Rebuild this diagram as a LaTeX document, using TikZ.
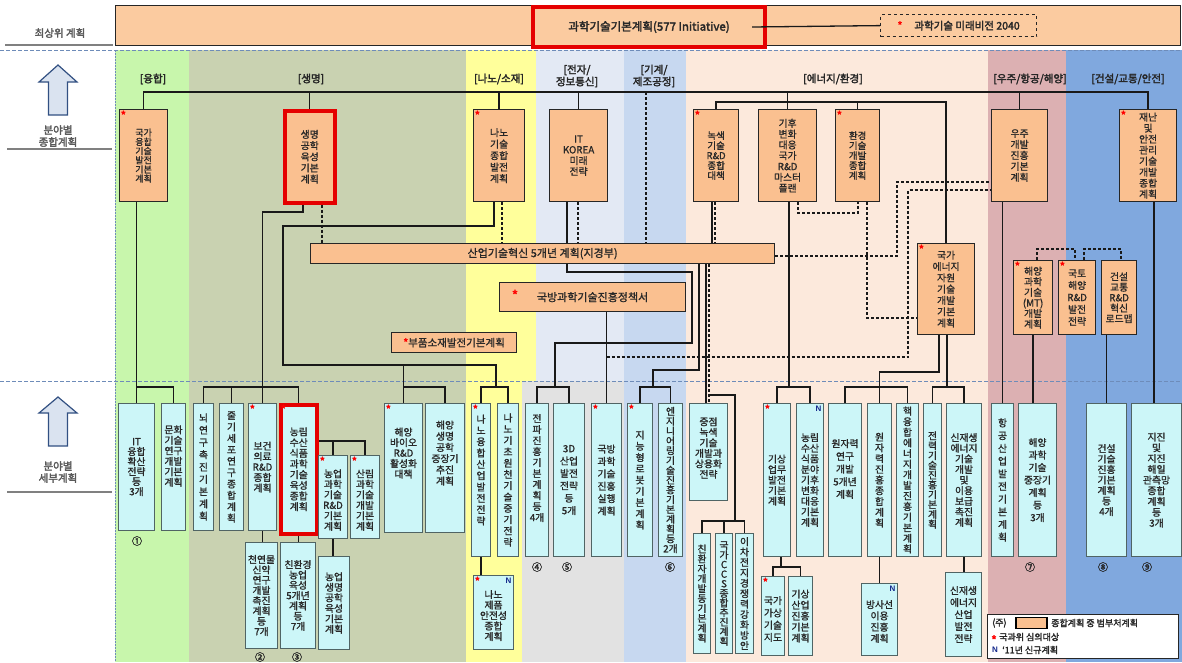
\documentclass[tikz,border=0pt]{standalone}
\usepackage{fontspec}
\setmainfont{Noto Sans CJK KR}[FakeBold=1.2]
\newfontfamily\krb{Noto Sans CJK KR}[FakeBold=2.5]
\newfontfamily\lat{Liberation Sans}
\usetikzlibrary{calc}
\pgfdeclarelayer{back}
\pgfdeclarelayer{mid}
\pgfsetlayers{back,mid,main}

\definecolor{orfill}{RGB}{250,192,144}
\definecolor{topfill}{RGB}{251,203,160}
\definecolor{cyfill}{RGB}{204,246,248}
\definecolor{cyline}{RGB}{80,100,100}
\definecolor{bandA}{RGB}{200,246,172}
\definecolor{bandB}{RGB}{201,210,177}
\definecolor{bandC}{RGB}{255,255,155}
\definecolor{bandD}{RGB}{227,233,244}
\definecolor{bandDg}{RGB}{226,226,226}
\definecolor{bandE}{RGB}{199,216,240}
\definecolor{bandF}{RGB}{252,233,220}
\definecolor{bandG}{RGB}{220,176,178}
\definecolor{bandH}{RGB}{128,168,222}
\definecolor{sepblue}{RGB}{110,140,185}
\definecolor{navyN}{RGB}{20,40,140}
\definecolor{arrowfill}{RGB}{218,227,240}
\definecolor{arrowline}{RGB}{50,80,130}
\definecolor{txt}{RGB}{40,40,40}

\newcommand\fs{\fontsize{9.8}{10.5}\selectfont}
\newcommand\vtu[3][10.5]{\vbox{\baselineskip=#1pt\lineskiplimit=-30pt\lineskip=0pt\vtA#2\relax\vskip#3}}
\newcommand\vt[2][10.5]{\vtu[#1]{#2}{0pt}}
\def\vtA#1{\ifx\relax#1\else\hbox to 8pt{\hss#1\hss}\expandafter\vtA\fi}
\newcommand\bx[7][]{\node[#1, anchor=north west, minimum width={#5-#3}, minimum height={#6-#4}] (#2) at (#3,#4) {#7};}

\tikzset{
 ob/.style={draw=black!85, fill=orfill, line width=1.2pt, inner sep=0pt, font=\fs, text=txt},
 cb/.style={draw=cyline, fill=cyfill, line width=1pt, inner sep=0pt, font=\fs, text=txt},
 rb/.style={draw=red!90!black, line width=3.5pt},
 st/.style={label={[text=red, anchor=north west, inner sep=1.5pt, font=\krb\fontsize{11.5}{11.5}\selectfont]north west:*}},
 nn/.style={label={[text=navyN, anchor=north east, inner sep=2.5pt, font=\lat\bfseries\fontsize{8}{8}\selectfont]north east:N}},
 ln/.style={line width=1.3pt, draw=black!90},
 dl/.style={line width=1.3pt, draw=black!90, dash pattern=on 3pt off 2pt},
 cat/.style={font=\krb\fontsize{10.5}{12}\selectfont, text=black!85, align=center},
 num/.style={font=\krb\fontsize{10}{10}\selectfont, text=black!85},
 side/.style={font=\krb\fontsize{10.5}{12}\selectfont, text=black!65, align=center},
 redstar/.style={text=red, font=\krb\fontsize{13}{13}\selectfont},
}

\begin{document}
\begin{tikzpicture}[x=1pt,y=-1pt]
\useasboundingbox (0,0) rectangle (1182,662);

% ---------- top level
\node[draw=black!85, fill=topfill, line width=1.2pt, anchor=north west, minimum width=1065, minimum height=40, inner sep=0] (topbar) at (115,5) {};
\node[draw=red!90!black, line width=4pt, fill=topfill, anchor=north west, minimum width=232, minimum height=40, inner sep=0, font=\krb\fontsize{11.5}{12}\selectfont, text=txt] (plan) at (531,5) {과학기술기본계획(577 Initiative)};
\node[draw=black!85, dashed, line width=1.2pt, fill=topfill, anchor=north west, minimum width=156, minimum height=22, inner sep=0, font=\krb\fontsize{10.5}{11}\selectfont, text=txt] (vision) at (880,14) {\textcolor{red}{*}\hspace{12pt}과학기술 미래비전 2040};
\draw[ln] (plan.east -| 752,0) -- (vision.west);

% ---------- left column
\node[side] (lt) at (60,33) {최상위 계획};
\node[side] (lm) at (58,136) {분야별\\종합계획};
\node[side] (lb) at (58,472) {분야별\\세부계획};
\draw[arrowline, fill=arrowfill, line width=1.2pt] (58,65) -- (77,82) -- (67.5,82) -- (67.5,115) -- (48.5,115) -- (48.5,82) -- (39,82) -- cycle;
\draw[arrowline, fill=arrowfill, line width=1.2pt] (58,397) -- (77,413) -- (67.5,413) -- (67.5,446) -- (48.5,446) -- (48.5,413) -- (39,413) -- cycle;

% ---------- category labels
\node[cat] (k1) at (153,79) {[융합]};
\node[cat] (k2) at (311,79) {[생명]};
\node[cat] (k3) at (499,79) {[나노/소재]};
\node[cat] (k4) at (577,76) {[전자/\\정보통신]};
\node[cat] (k5) at (654,76) {[기계/\\제조공정]};
\node[cat] (k6) at (833,79) {[에너지/환경]};
\node[cat] (k7) at (1030,79) {[우주/항공/해양]};
\node[cat] (k8) at (1128,79) {[건설/교통/안전]};

% ---------- middle tier
\bx[ob,st,font=\fontsize{9}{9}\selectfont]{o1}{119}{109}{167}{201}{\vt[9.2]{{국가}{융합}{기술}{발전}{기본}{계획}}}
\bx[ob,rb]{o2}{283}{109}{333}{201}{\vt[11.2]{{생명}{공학}{육성}{기본}{계획}}}
\bx[ob,st]{o3}{473}{109}{524}{201}{\vt[11.5]{{나노}{기술}{종합}{발전}{계획}}}
\bx[ob]{o4}{549}{109}{607}{201}{\vt[10.8]{{IT}{KOREA}{미래}{전략}}}
\bx[ob,st,font=\fontsize{9.5}{9}\selectfont]{o5}{693}{109}{738}{201}{\vt[10]{{녹색}{기술}{R\&D}{종합}{대책}}}
\bx[ob]{o6}{758}{109}{816}{201}{\vt[10.8]{{기후}{변화}{대응}{국가}{R\&D}{마스터}{플랜}}}
\bx[ob,st,font=\fontsize{9.5}{9}\selectfont]{o7}{835}{109}{879}{201}{\vt[10]{{환경}{기술}{개발}{종합}{계획}}}
\bx[ob]{o8}{991}{109}{1047}{201}{\vt[11]{{우주}{개발}{진흥}{기본}{계획}}}
\bx[ob,st]{o9}{1119}{109}{1176}{201}{\vt[11]{{재난}{및}{안전}{관리}{기술}{개발}{종합}{계획}}}
\bx[ob,st]{o10}{917}{243}{974}{334}{\vt[11.3]{{국가}{에너지}{자원}{기술}{개발}{기본}{계획}}}
\bx[ob,st]{o11}{1013}{260}{1052}{334}{\vt[10.6]{{해양}{과학}{기술}{(MT)}{개발}{계획}}}
\bx[ob,st]{o12}{1058}{260}{1095}{334}{\vt[12]{{국토}{해양}{R\&D}{발전}{전략}}}
\bx[ob]{o13}{1101}{260}{1136}{334}{\vt[10.5]{{건설}{교통}{R\&D}{혁신}{로드맵}}}
\bx[ob,font=\fontsize{11}{11}\selectfont]{b1}{310}{243}{774}{263}{산업기술혁신 5개년 계획(지경부)}
\bx[ob,font=\fontsize{11}{11}\selectfont]{b2}{499}{282}{685}{311}{국방과학기술진흥정책서}
\node[redstar] (b2s) at (515,295) {*};
\bx[ob,font=\fontsize{10.5}{11}\selectfont]{b3}{391}{332}{516}{352}{\textcolor{red}{\krb *}부품소재발전기본계획}

% ---------- bottom tier
\bx[cb]{c1}{118}{403}{154}{530}{\vt[10]{{IT}{융합}{확산}{전략}{등}{3개}}}
\bx[cb]{c2}{161}{403}{185}{530}{\vtu{{문화}{기술}{연구}{개발}{기본}{계획}}{22pt}}
\bx[cb]{c3}{193}{403}{213}{530}{\vt[12.3]{뇌연구촉진기본계획}}
\bx[cb]{c4}{219}{403}{243}{530}{\vt[11.4]{줄기세포연구종합계획}}
\bx[cb,st]{c5}{248}{403}{276}{530}{\vt{{보건}{의료}{R\&D}{종합}{계획}}}
\bx[cb,rb,st]{c6}{279}{403}{315}{532}{\vt[10.7]{{농림}{수산}{식품}{과학}{기술}{육성}{종합}{계획}}}
\bx[cb]{c7}{245}{542}{277}{648}{\vt[10.3]{{천연물}{신약}{연구}{개발}{촉진}{계획}{등}{7개}}}
\bx[cb]{c8}{280}{542}{315}{648}{\vt[10.3]{{친환경}{농업}{육성}{5개년}{계획}{등}{7개}}}
\bx[cb,st]{c9}{318}{455}{347}{538}{\vtu{{농업}{과학}{기술}{R\&D}{기본}{계획}}{-6pt}}
\bx[cb,st]{c10}{350}{455}{379}{538}{\vtu{{산림}{과학}{기술}{개발}{기본}{계획}}{-6pt}}
\bx[cb]{c11}{318}{556}{349}{649}{\vt{{농업}{생명}{공학}{육성}{기본}{계획}}}
\bx[cb,st]{c12}{384}{403}{422}{532}{\vtu{{해양}{바이오}{R\&D}{활성화}{대책}}{30pt}}
\bx[cb]{c13}{425}{403}{464}{532}{\vtu[11.2]{{해양}{생명}{공학}{중장기}{추진}{계획}}{30pt}}
\bx[cb,st]{c14}{471}{403}{490}{556}{\vtu[11.3]{나노융합산업발전전략}{20pt}}
\bx[cb]{c15}{497}{403}{518}{556}{\vt[11.3]{나노기초원천기술중기전략}}
\bx[cb,st,nn]{c16}{473}{575}{513}{649}{\vtu{{나노}{제품}{안전성}{종합}{계획}}{-6pt}}
\bx[cb]{c17}{525}{403}{548}{556}{\vtu[11]{전파진흥기본계획등{4개}}{24pt}}
\bx[cb]{c18}{553}{403}{584}{556}{\vt[12.4]{{3D}{산업}{발전}{전략}{등}{5개}}}
\bx[cb,st]{c19}{591}{403}{621}{556}{\vt[12.4]{{국방}{과학}{기술}{진흥}{실행}{계획}}}
\bx[cb,st]{c20}{627}{403}{652}{556}{\vt[11.25]{지능형로봇기본계획}}
\bx[cb]{c21}{658}{403}{682}{556}{\vt[9.8]{엔지니어링기술진흥기본계획등{2개}}}
\bx[cb]{c22}{689}{403}{727}{500}{\vtu{{중점}{녹색}{기술}{개발과}{상용화}{전략}}{8pt}}
\bx[cb]{c23}{693}{533}{710}{653}{\vt[9.9]{친환자개발동기본계획}}
\bx[cb]{c24}{715}{533}{732}{653}{\vt[9.6]{국가CCS종합추진계획}}
\bx[cb]{c25}{735}{533}{753}{653}{\vt[10.4]{이차전지경쟁력강화방안}}
\bx[cb,st]{c26}{763}{403}{790}{556}{\vt{{기상}{업무}{발전}{기본}{계획}}}
\bx[cb,nn]{c27}{796}{403}{823}{556}{\vt[10.6]{{농림}{수산}{식품}{분야}{기후}{변화}{대응}{기본}{계획}}}
\bx[cb]{c28}{828}{403}{861}{556}{\vtu[12.7]{{원자력}{연구}{개발}{5개년}{계획}}{22pt}}
\bx[cb]{c29}{867}{403}{891}{556}{\vt[10.75]{원자력진흥종합계획}}
\bx[cb,nn]{c30}{861}{583}{897}{655}{\vtu[11.3]{{방사선}{이용}{진흥}{계획}}{-4pt}}
\bx[cb,st]{c31}{761}{576}{784}{655}{\vtu[12.3]{{국가}{가상}{기술}{지도}}{-6pt}}
\bx[cb]{c32}{788}{576}{812}{655}{\vt[11]{{기상}{산업}{진흥}{기본}{계획}}}
\bx[cb]{c33}{896}{403}{918}{556}{\vt[10.6]{핵융합에너지개발진흥기본계획}}
\bx[cb]{c34}{923}{403}{941}{556}{\vt[9.8]{전력기술진흥기본계획}}
\bx[cb]{c35}{946}{403}{981}{556}{\vt[10.6]{{신재생}{에너지}{기술}{개발}{및}{이용}{보급}{촉진}{계획}}}
\bx[cb]{c36}{945}{572}{981}{656}{\vt[12]{{신재생}{에너지}{산업}{발전}{전략}}}
\bx[cb]{c37}{991}{403}{1013}{556}{\vt[12.7]{항공산업발전기본계획}}
\bx[cb]{c38}{1018}{403}{1056}{556}{\vt[12.5]{{해양}{과학}{기술}{중장기}{계획}{등}{3개}}}
\bx[cb]{c39}{1086}{403}{1126}{556}{\vt[10.5]{{건설}{기술}{진흥}{기본}{계획}{등}{4개}}}
\bx[cb]{c40}{1131}{403}{1181}{556}{\vt[10.75]{{지진}{및}{지진}{해일}{관측망}{종합}{계획}{등}{3개}}}

% circled numbers
\node[num] (n1) at (137,541) {①};
\node[num] (n2) at (260,657) {②};
\node[num] (n3) at (297,657) {③};
\node[num] (n4) at (537,567) {④};
\node[num] (n5) at (567,567) {⑤};
\node[num] (n6) at (670,567) {⑥};
\node[num] (n7) at (1030,567) {⑦};
\node[num] (n8) at (1103,567) {⑧};
\node[num] (n9) at (1147,567) {⑨};

% legend
\node[draw=black!85, fill=white, line width=1.2pt, anchor=north west, minimum width=191, minimum height=44, inner sep=0] (leg) at (987,614) {};
\node[anchor=west, font=\krb\fontsize{9}{9}\selectfont, text=txt, inner sep=0] (lg1) at (992,623) {(주)};
\node[draw=black, fill=orfill, line width=1.8pt, anchor=west, minimum width=31, minimum height=11, inner sep=0] (lgbox) at (1015,623) {};
\node[anchor=west, font=\krb\fontsize{9}{9}\selectfont, text=txt, inner sep=0] (lg2) at (1051,623) {종합계획 중 범부처계획};
\node[anchor=west, text=red, font=\krb\fontsize{12}{12}\selectfont, inner sep=0] (lgs) at (991,640) {*};
\node[anchor=west, font=\krb\fontsize{9}{9}\selectfont, text=txt, inner sep=0] (lg3) at (999,637) {국과위 심의대상};
\node[anchor=west, text=navyN, font=\lat\bfseries\fontsize{8}{8}\selectfont, inner sep=0] (lgn) at (992,650) {N};
\node[anchor=west, font=\krb\fontsize{9}{9}\selectfont, text=txt, inner sep=0] (lg4) at (1002,650) {‘11년 신규계획};

% ---------- background bands
\begin{pgfonlayer}{back}
\fill[white] (0,0) rectangle (1182,662);
\fill[bandA] (115,50) rectangle (189,662);
\fill[bandB] (189,50) rectangle (466,662);
\fill[bandC] (466,50) rectangle (536,381);
\fill[bandC] (466,381) rectangle (522,662);
\fill[bandD] (536,50) rectangle (624,381);
\fill[bandDg] (522,381) rectangle (624,662);
\fill[bandE] (624,50) rectangle (686,662);
\fill[bandF] (686,50) rectangle (988,662);
\fill[bandG] (988,50) rectangle (1066,662);
\fill[bandH] (1066,50) rectangle (1182,662);
\draw[sepblue, line width=1pt, dash pattern=on 4pt off 2pt] (0,50) -- (1182,50);
\draw[sepblue, line width=1pt, dash pattern=on 4pt off 2pt] (0,381) -- (1182,381);
\draw[sepblue, line width=1pt, dash pattern=on 1.5pt off 1.5pt] (115,50) -- (115,662);
\draw[gray, line width=1.5pt] (5,45) -- (113,45);
\draw[gray, line width=1.5pt] (7,149) -- (112,149);
\draw[gray, line width=1.5pt] (7,492) -- (112,492);
\end{pgfonlayer}

% ---------- connectors
\begin{pgfonlayer}{mid}
\coordinate (mach) at (646,92);
% main distribution line
\draw[ln] (o1.north) -- ++(0,-17) -| (o9.north);
\draw[ln] (o2.north) -- ++(0,-17);
\draw[ln] (o3.north) -- ++(0,-17);
\draw[ln] (o4.north) -- ++(0,-17);
\draw[ln] (o8.north) -- ++(0,-17);
\draw[ln] (o6.north) -- ++(0,-17);
\draw[ln] (o5.north) -- ++(0,-7) -| (o10.north);
\draw[ln] (o7.north) -- ++(0,-7);
\draw[dl] (mach) -- (b1.north -| mach);
% fusion
\draw[ln] (o1.south -| c1.north) -- (c1.north);
\draw[ln] (c1.north |- 0,387) -| (c2.north);
% bio
\draw[ln] (o2.south -| 303,0) |- (c5.north |- 0,212) -- (c5.north);
\draw[ln] (c3.north) -- (c3.north |- 0,387) -| (c6.north);
\draw[ln] (c4.north) -- (c4.north |- 0,387);
\draw[dl] (o2.south -| 322,0) -- (b1.north -| 322,0);
% nano loop
\draw[ln] (o3.south -| 494,0) |- (283,226) |- (496,365) -- (496,387);
\draw[ln] (c14.north) -- (c14.north |- 0,387) -| (c15.north);
\draw[ln] (c12.north |- 0,365) -- (c12.north);
\draw[ln] (c12.north |- 0,387) -| (c13.north);
\draw[dl] (o3.south -| 502,0) -- (b1.north -| 502,0);
% IT
\draw[ln] (o4.south -| 567,0) -- (567,272) -| (692,343) -| (555,387);
\draw[ln] (c17.north) -- (c17.north |- 0,387) -| (c18.north);
\draw[dl] (o4.south -| 578,0) -- (b1.north -| 578,0);
% defense
\draw[ln] (b2.south -| c19.north) -- (c19.north);
\draw[dl] (c19.north |- 0,357) -| (908,190) -- (o8.west |- 0,190);
\draw[dl] (b1.east |- 0,256) -| (897,182) -- (o8.west |- 0,182);
% machinery
\draw[ln] (b1.south -| 699,0) |- (653,370) -- (653,387);
\draw[ln] (c20.north) -- (c20.north |- 0,387) -| (c21.north);
% green
\draw[ln] (o5.south -| 712,0) -- (b1.north -| 712,0);
\draw[dl] (o5.south -| 715,0) -- (b1.north -| 715,0);
\draw[ln] (b1.south -| 706,0) -- (c22.north -| 706,0);
\draw[dl] (b1.south -| 709,0) -- (c22.north -| 709,0);
\draw[ln] (709,395) -| (735,521);
\draw[ln] (c23.north) -- (c23.north |- 0,521) -| (c25.north);
\draw[ln] (c24.north) -- (c24.north |- 0,521);
% climate
\draw[ln] (o6.south -| 789,0) -- (789,387);
\draw[ln] (c26.north) -- (c26.north |- 0,387) -| (c27.north);
\draw[dl] (o6.south -| 798,0) |- (858,213) -- (o7.south -| 858,0);
\draw[dl] (o7.south -| 867,0) |- (o10.west |- 0,318);
% energy resources
\draw[ln] (o10.south -| 939,0) |- (c29.north |- 0,372) -- (c29.north);
\draw[ln] (c28.north) -- (c28.north |- 0,387) -| (c33.north);
\draw[ln] (o10.south -| 947,0) -- (947,387);
\draw[ln] (c34.north) -- (c34.north |- 0,387) -| (c35.north);
% space / ocean / construction
\draw[ln] (o8.south -| c37.north) -- (c37.north);
\draw[ln] (o11.south) -- (o11.south |- c38.north);
\draw[ln] (o13.south -| c39.north) -- (c39.north);
\draw[ln] (o9.south -| 1154,0) -- (c40.north -| 1154,0);
\draw[dl] (o11.north -| 1037,0) -- ++(0,-11) -| (o12.north -| 1075,0);
\draw[dl] (o12.north -| 1084,0) -- ++(0,-11) -| (o13.north -| 1121,0);
% bottom sub-links
\draw[ln] (c5.south) -- (c5.south |- c7.north);
\draw[ln] (c6.south) -- (c6.south |- c8.north);
\draw[ln] (c6.east |- 0,441) -| (c10.north);
\draw[ln] (c9.north) -- (c9.north |- 0,441);
\draw[ln] (c9.south) -- (c9.south |- c11.north);
\draw[ln] (c14.south) -- (c14.south |- c16.north);
\draw[ln] (c26.south -| 781,0) -- (781,567);
\draw[ln] (c31.north) -- (c31.north |- 0,567) -| (c32.north);
\draw[ln] (c29.south) -- (c29.south |- c30.north);
\draw[ln] (c35.south) -- (c35.south |- c36.north);
\end{pgfonlayer}
\end{tikzpicture}
\end{document}
